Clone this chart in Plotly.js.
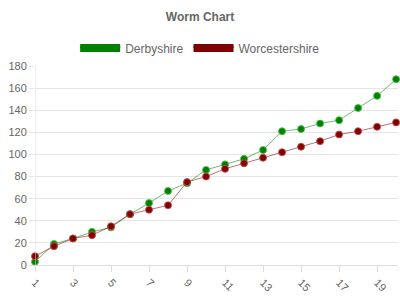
<!DOCTYPE html>
<html><head><meta charset="utf-8">
<script src="https://cdn.plot.ly/plotly-3.0.1.min.js"></script>
<style>html,body{margin:0;padding:0;background:#fff}#c{width:400px;height:300px}</style>
</head><body><div id="c"></div>
<script>
const overs = [1,2,3,4,5,6,7,8,9,10,11,12,13,14,15,16,17,18,19,20];
const derbyshire = [3,19,24,30,34,46,56,67,74,86,91,96,104,121,123,128,131,142,153,168];
const worcestershire = [8,17,24,27,35,46,50,54,75,80,87,92,97,102,107,112,118,121,125,129];
const seriesNames = ['Derbyshire','Worcestershire'];
const xTicks = [1,3,5,7,9,11,13,15,17,19];
const yTicks = [0,20,40,60,80,100,120,140,160,180];

const cols = [{m:'rgb(0,128,0)', l:'rgba(0,128,0,0.55)', b:'rgba(80,190,80,0.9)'},
              {m:'rgb(128,0,0)', l:'rgba(128,0,0,0.55)', b:'rgba(190,80,80,0.9)'}];
const data = [];
[derbyshire, worcestershire].forEach((ys,i)=>{
  data.push({x:overs, y:ys, type:'scatter', mode:'lines+markers', name:seriesNames[i],
    showlegend:false, line:{color:cols[i].l, width:1},
    marker:{color:cols[i].m, size:7, line:{color:cols[i].b, width:1}}, cliponaxis:false});
});
[0,1].forEach(i=>{
  data.push({x:[null], y:[null], type:'scatter', mode:'lines', fill:'toself', name:seriesNames[i],
    fillcolor:cols[i].m, line:{color:cols[i].m, width:4}, showlegend:true});
});
const layout = {
  width:400, height:300, margin:{l:35, r:2, t:66, b:35},
  paper_bgcolor:'#fff', plot_bgcolor:'#fff',
  font:{family:'Liberation Sans, Arial, sans-serif', color:'#666', size:11},
  title:{text:'<b>Worm Chart</b>', x:0.5, xanchor:'center', y:0.945, yanchor:'middle', font:{size:12, color:'#666'}},
  showlegend:true,
  legend:{orientation:'h', x:0.455, xanchor:'center', y:1.09, yanchor:'middle', font:{size:12, color:'#666'}, itemwidth:40},
  xaxis:{range:[1,20.1], tickvals:xTicks, ticktext:xTicks.map(String), tickangle:45, showgrid:false,
    showline:true, linecolor:'#ddd', ticks:'outside', ticklen:6, tickcolor:'#ddd', zeroline:false, fixedrange:true, tickfont:{size:11,color:'#666'}},
  yaxis:{range:[0,180], tickvals:yTicks, showgrid:true, gridcolor:'#e5e5e5', showline:false,
    ticks:'outside', ticklen:5, tickcolor:'#e5e5e5', zeroline:false, tickfont:{size:11,color:'#666'}},
  shapes:[{type:'line', xref:'x', yref:'paper', x0:1, x1:1, y0:0, y1:1, line:{color:'#ddd', width:1}}]
};
Plotly.newPlot('c', data, layout, {displayModeBar:false, staticPlot:true});
</script></body></html>
